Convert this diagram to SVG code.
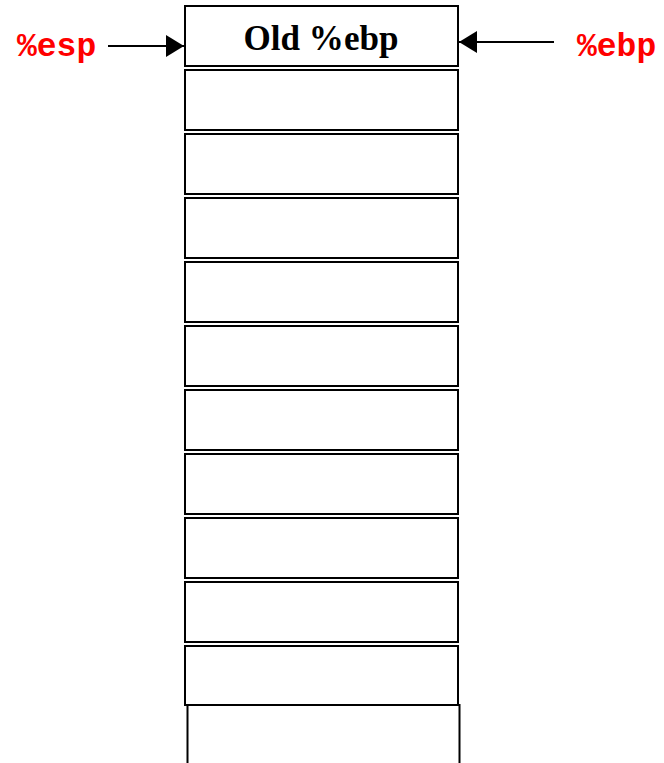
<svg xmlns="http://www.w3.org/2000/svg" width="664" height="763" viewBox="0 0 664 763">
<style>
.cell{fill:#fff;stroke:#000;stroke-width:2}
.reg{font-family:"Liberation Mono",monospace;font-weight:bold;font-size:33px;fill:#ff0000}
.lbl{font-family:"Liberation Serif",serif;font-weight:bold;font-size:35px;fill:#000}
.conn{stroke:#000;stroke-width:2;fill:none}
</style>
<defs>
<marker id="ahb" markerWidth="18" markerHeight="22" refX="18" refY="11" orient="auto" markerUnits="userSpaceOnUse" viewBox="0 0 18 22">
<path d="M0,0 L18,11 L0,22 Z" fill="#000"/>
</marker>
</defs>
<g id="stack">
<g id="cell0"><rect class="cell" x="185" y="6" width="273" height="60"/><text class="lbl" x="321" y="50" text-anchor="middle" textLength="155" lengthAdjust="spacingAndGlyphs">Old %ebp</text></g>
<g id="cell1"><rect class="cell" x="185" y="70" width="273" height="60"/></g>
<g id="cell2"><rect class="cell" x="185" y="134" width="273" height="60"/></g>
<g id="cell3"><rect class="cell" x="185" y="198" width="273" height="60"/></g>
<g id="cell4"><rect class="cell" x="185" y="262" width="273" height="60"/></g>
<g id="cell5"><rect class="cell" x="185" y="326" width="273" height="60"/></g>
<g id="cell6"><rect class="cell" x="185" y="390" width="273" height="60"/></g>
<g id="cell7"><rect class="cell" x="185" y="454" width="273" height="60"/></g>
<g id="cell8"><rect class="cell" x="185" y="518" width="273" height="60"/></g>
<g id="cell9"><rect class="cell" x="185" y="582" width="273" height="60"/></g>
<g id="cell10"><rect class="cell" x="185" y="646" width="273" height="59"/></g>
<g id="cell11"><rect class="cell" x="187.5" y="705" width="272" height="70"/></g>
</g>
<g id="esp"><text class="reg" x="17" y="56">%esp</text></g>
<g id="ebp"><text class="reg" x="577" y="56">%ebp</text></g>
<g id="connectors">
<line class="conn" x1="108" y1="46" x2="184" y2="46" marker-end="url(#ahb)"/>
<line class="conn" x1="554" y1="42" x2="459" y2="42" marker-end="url(#ahb)"/>
</g>
</svg>
